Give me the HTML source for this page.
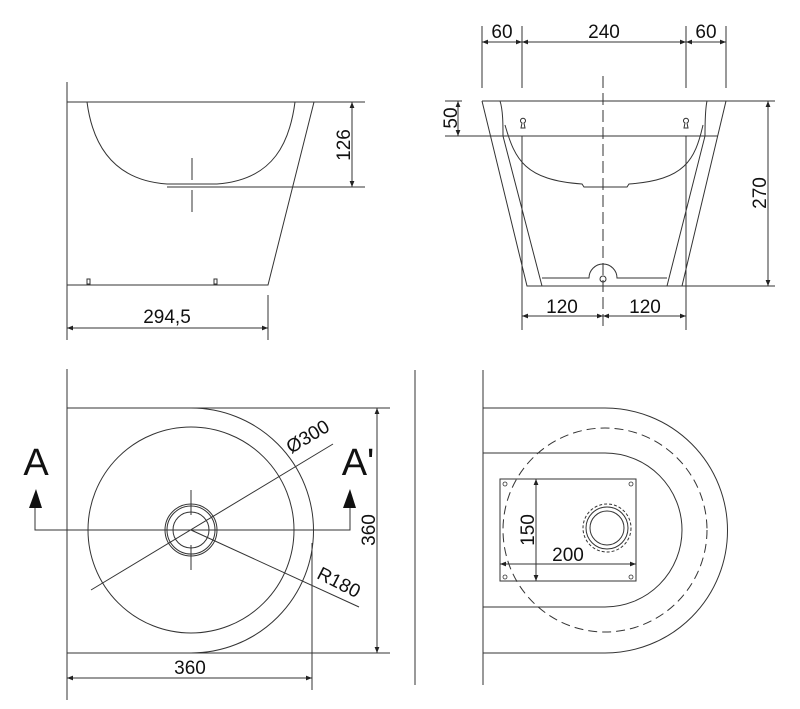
<!DOCTYPE html>
<html><head><meta charset="utf-8"><style>
html,body{margin:0;padding:0;background:#fff;}
svg{display:block;}
text{font-family:"Liberation Sans",Arial,sans-serif;fill:#111;}
</style></head><body>
<svg width="800" height="709" viewBox="0 0 800 709" xmlns="http://www.w3.org/2000/svg">
<defs>
<marker id="ar" viewBox="0 0 10 10" refX="10" refY="5" markerWidth="8" markerHeight="6" orient="auto-start-reverse" markerUnits="userSpaceOnUse"><path d="M0,1 L10,5 L0,9 z" fill="#222"/></marker>
</defs>
<g stroke="#333" stroke-width="1" fill="none">
<!-- TOP LEFT -->
<line x1="67" y1="82" x2="67" y2="340"/>
<line x1="67" y1="102" x2="365" y2="102"/>
<path d="M67,102 L67,285 L268,285 L314,102"/>
<path d="M87,102 C92,140 110,180 167,184 L217,184 C275,180 290,140 295,102"/>
<line x1="167" y1="187" x2="365" y2="187"/>
<line x1="192" y1="158" x2="192" y2="180"/><line x1="192" y1="190" x2="192" y2="212"/>
<line x1="352" y1="102" x2="352" y2="187" marker-start="url(#ar)" marker-end="url(#ar)"/>
<line x1="268" y1="295" x2="268" y2="340"/>
<line x1="67" y1="328" x2="268" y2="328" marker-start="url(#ar)" marker-end="url(#ar)"/>
<rect x="87" y="279" width="3" height="5"/><rect x="214" y="279" width="3" height="5"/>
<!-- TOP RIGHT -->
<line x1="482" y1="26" x2="482" y2="88"/><line x1="522" y1="26" x2="522" y2="88"/>
<line x1="686" y1="26" x2="686" y2="88"/><line x1="726" y1="26" x2="726" y2="88"/>
<line x1="482" y1="42" x2="522" y2="42" marker-start="url(#ar)" marker-end="url(#ar)"/>
<line x1="522" y1="42" x2="686" y2="42" marker-start="url(#ar)" marker-end="url(#ar)"/>
<line x1="686" y1="42" x2="726" y2="42" marker-start="url(#ar)" marker-end="url(#ar)"/>
<line x1="482" y1="101" x2="775" y2="101"/>
<line x1="445" y1="101" x2="462" y2="101"/>
<line x1="445" y1="136" x2="718" y2="136"/>
<path d="M482,101 L527,286 L682,286 L726,101"/>
<path d="M500,101 C503,110 503,125 503,136 L542,286"/>
<path d="M707,101 C705,110 705,125 705,136 L667,286"/>
<line x1="682" y1="286" x2="775" y2="286"/>
<path d="M542,278 L589,278 A14,14 0 0 1 617,278 L667,278"/>
<circle cx="603" cy="279" r="3"/>
<path d="M505,125 C515,160 525,180 582,184 L584,187 L627,187 L629,184 C685,180 695,160 703,125"/>
<line x1="522" y1="136" x2="522" y2="330"/><line x1="686" y1="136" x2="686" y2="330"/>
<line x1="603" y1="76" x2="603" y2="330" stroke-dasharray="12,5"/>
<path d="M521,128 L525,128 L524,123 A2.5,2.5 0 1 0 522,123 Z"/>
<path d="M684,128 L688,128 L687,123 A2.5,2.5 0 1 0 685,123 Z"/>
<line x1="458" y1="101" x2="458" y2="136" marker-start="url(#ar)" marker-end="url(#ar)"/>
<line x1="768" y1="101" x2="768" y2="286" marker-start="url(#ar)" marker-end="url(#ar)"/>
<line x1="522" y1="316" x2="603" y2="316" marker-start="url(#ar)" marker-end="url(#ar)"/>
<line x1="603" y1="316" x2="686" y2="316" marker-start="url(#ar)" marker-end="url(#ar)"/>
<!-- BOTTOM LEFT -->
<line x1="67" y1="369" x2="67" y2="700"/>
<line x1="67" y1="408" x2="390" y2="408"/>
<line x1="67" y1="653" x2="390" y2="653"/>
<path d="M191,408 A122,122 0 0 1 191,653"/>
<line x1="312" y1="543" x2="312" y2="690"/>
<circle cx="191" cy="530" r="103"/>
<circle cx="191" cy="530" r="26"/><circle cx="191" cy="530" r="24"/><circle cx="191" cy="530" r="18"/>
<line x1="191" y1="490" x2="191" y2="515"/><line x1="191" y1="545" x2="191" y2="570"/>
<path d="M35,508 L35,530 L350,530 L350,508"/>
<line x1="91" y1="590" x2="333" y2="444"/>
<line x1="191" y1="530" x2="359" y2="607"/>
<line x1="377" y1="408" x2="377" y2="653" marker-start="url(#ar)" marker-end="url(#ar)"/>
<line x1="67" y1="678" x2="312" y2="678" marker-start="url(#ar)" marker-end="url(#ar)"/>
<!-- BOTTOM RIGHT -->
<line x1="415" y1="370" x2="415" y2="685"/>
<line x1="483" y1="370" x2="483" y2="685"/>
<path d="M483,408 L605,408 A122,122 0 0 1 605,653 L483,653"/>
<path d="M483,453 L605,453 A77,77 0 0 1 605,607 L483,607"/>
<circle cx="605" cy="530" r="102" stroke-dasharray="9,5"/>
<rect x="500" y="479" width="136" height="102"/>
<circle cx="607" cy="528" r="24" stroke-dasharray="3,2"/>
<circle cx="607" cy="528" r="21"/><circle cx="607" cy="528" r="17"/>
<line x1="536" y1="479" x2="536" y2="581" marker-start="url(#ar)" marker-end="url(#ar)"/>
<line x1="500" y1="564" x2="636" y2="564" marker-start="url(#ar)" marker-end="url(#ar)"/>
<g stroke-width="0.8"><circle cx="505" cy="484" r="2"/><circle cx="631" cy="484" r="2"/><circle cx="505" cy="577" r="2"/><circle cx="631" cy="577" r="2"/></g>
</g>
<path d="M36,489 L42,508 L29,508 Z" fill="#111"/>
<path d="M350,489 L356,508 L343,508 Z" fill="#111"/>
<g font-size="19">
<text x="167" y="323" text-anchor="middle">294,5</text>
<text transform="translate(350,145) rotate(-90)" text-anchor="middle">126</text>
<text x="502" y="38" text-anchor="middle">60</text>
<text x="604" y="38" text-anchor="middle">240</text>
<text x="706" y="38" text-anchor="middle">60</text>
<text transform="translate(457,118) rotate(-90)" text-anchor="middle">50</text>
<text transform="translate(766,193) rotate(-90)" text-anchor="middle">270</text>
<text x="562" y="313" text-anchor="middle">120</text>
<text x="645" y="313" text-anchor="middle">120</text>
<text x="190" y="674" text-anchor="middle">360</text>
<text transform="translate(375,530) rotate(-90)" text-anchor="middle">360</text>
<text transform="translate(311,442) rotate(-31)" text-anchor="middle">Ø300</text>
<text transform="translate(336,588) rotate(27)" text-anchor="middle">R180</text>
<text transform="translate(534,530) rotate(-90)" text-anchor="middle">150</text>
<text x="568" y="561" text-anchor="middle">200</text>
</g>
<text x="36" y="475" font-size="38" text-anchor="middle">A</text>
<text x="358" y="475" font-size="38" text-anchor="middle">A'</text>
</svg>
</body></html>
